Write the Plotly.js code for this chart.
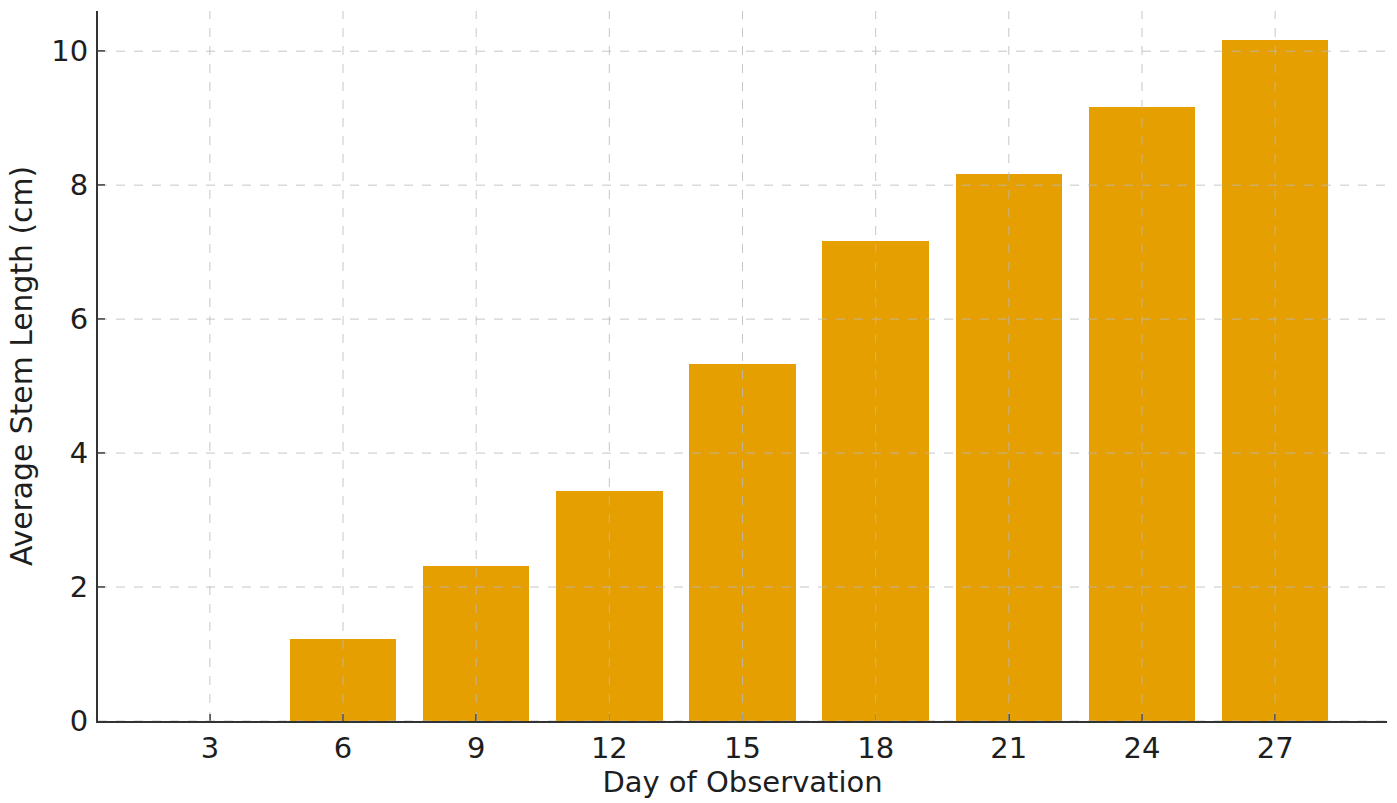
<!DOCTYPE html>
<html>
<head>
<meta charset="utf-8">
<script src="https://cdn.plot.ly/plotly-3.0.1.min.js"></script>
<style>html,body{margin:0;padding:0;background:#fff;}#chart{width:1397px;height:803px;}</style>
</head>
<body>
<div id="chart"></div>
<script>
const days = [3, 6, 9, 12, 15, 18, 21, 24, 27];
const stemLength = [0, 1.23, 2.32, 3.43, 5.33, 7.17, 8.17, 9.17, 10.16];
const yTicks = [0, 2, 4, 6, 8, 10];
const xTitle = "Day of Observation";
const yTitle = "Average Stem Length (cm)";

const gridStyle = {color: "rgba(185,185,185,0.8)", width: 1, dash: "dash"};
const shapes = [];
days.forEach(d => shapes.push({type: "line", xref: "x", yref: "paper", x0: d, x1: d, y0: 0, y1: 1, line: gridStyle, layer: "above"}));
yTicks.forEach(v => shapes.push({type: "line", xref: "paper", yref: "y", x0: 0, x1: 1, y0: v, y1: v, line: gridStyle, layer: "above"}));

const fam = "DejaVu Sans, sans-serif";
const txt = {family: fam, size: 29, color: "#1e1e1e"};
const ytxt = {family: fam, size: 29.8, color: "#1e1e1e"};

Plotly.newPlot("chart", [{
  type: "bar",
  x: days,
  y: stemLength,
  width: 2.4,
  marker: {color: "#E69F00", line: {width: 0}},
  hoverinfo: "x+y"
}], {
  width: 1397, height: 803,
  margin: {l: 98, r: 10, t: 11, b: 82, pad: 0},
  paper_bgcolor: "#fff", plot_bgcolor: "#fff",
  font: txt,
  showlegend: false,
  bargap: 0,
  xaxis: {
    range: [0.48, 29.52],
    tickvals: days,
    ticktext: days.map(String),
    ticks: "inside", ticklen: 7, tickwidth: 1.5, tickcolor: "#333",
    showgrid: false, zeroline: false,
    showline: true, linecolor: "#333", linewidth: 2,
    tickfont: txt,
    ticklabelstandoff: 0,
    title: {text: xTitle, font: txt, standoff: 2},
    layer: "above traces"
  },
  yaxis: {
    range: [0, 10.6],
    tickvals: yTicks,
    ticktext: yTicks.map(String),
    ticks: "inside", ticklen: 7, tickwidth: 1.5, tickcolor: "#333",
    showgrid: false, zeroline: false,
    showline: true, linecolor: "#333", linewidth: 2,
    tickfont: txt,
    ticklabelstandoff: 2,
    title: {text: yTitle, font: ytxt, standoff: 10},
    layer: "above traces"
  },
  shapes: shapes
}, {displayModeBar: false, staticPlot: true});
</script>
</body>
</html>
